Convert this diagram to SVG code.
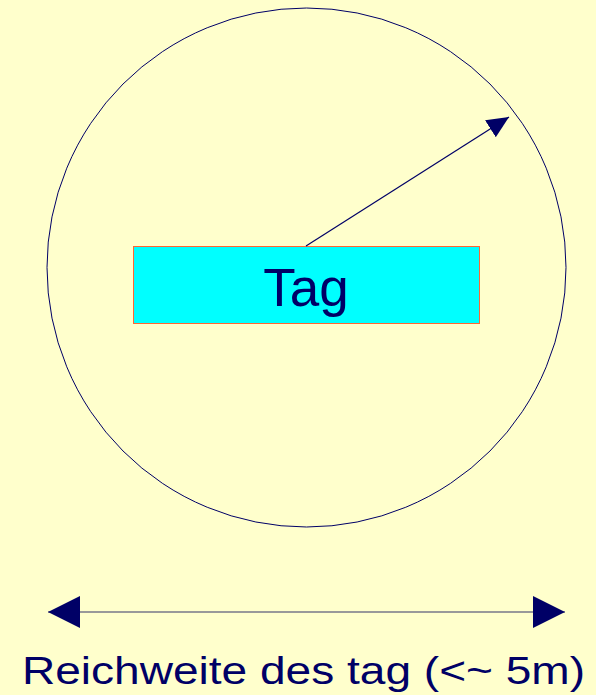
<svg xmlns="http://www.w3.org/2000/svg" width="596" height="695" viewBox="0 0 596 695">
<defs>
<style>
.txt{font-family:"Liberation Sans",Arial,sans-serif;fill:#000066}
.ln{stroke:#000066;stroke-width:1.2;fill:none}
</style>
<marker id="ah" markerWidth="22" markerHeight="20" refX="22" refY="10" orient="auto" markerUnits="userSpaceOnUse">
<path d="M0,0 L22,10 L0,20 Z" fill="#000066"/>
</marker>
<marker id="ah2" markerWidth="32" markerHeight="32" refX="32" refY="16" orient="auto-start-reverse" markerUnits="userSpaceOnUse">
<path d="M0,0 L32,16 L0,32 Z" fill="#000066"/>
</marker>
</defs>
<rect width="596" height="695" fill="#FFFFCC"/>
<g id="range-circle">
<circle cx="306.5" cy="267.5" r="259.5" fill="none" stroke="#000066" stroke-width="1"/>
</g>
<g id="tag">
<rect x="133.5" y="246.5" width="346" height="77" fill="#00FFFF" stroke="#FF6633" stroke-width="1"/>
<text class="txt" x="306" y="306" font-size="53" text-anchor="middle">Tag</text>
</g>
<g id="connectors">
<line class="ln" x1="306" y1="246" x2="509" y2="117" marker-end="url(#ah)"/>
<line x1="48" y1="612" x2="565" y2="612" stroke="#77778A" stroke-width="1.5" marker-start="url(#ah2)" marker-end="url(#ah2)"/>
</g>
<g id="label">
<text class="txt" x="22" y="684" font-size="38" textLength="563" lengthAdjust="spacingAndGlyphs">Reichweite des tag (&lt;~ 5m)</text>
</g>
</svg>
